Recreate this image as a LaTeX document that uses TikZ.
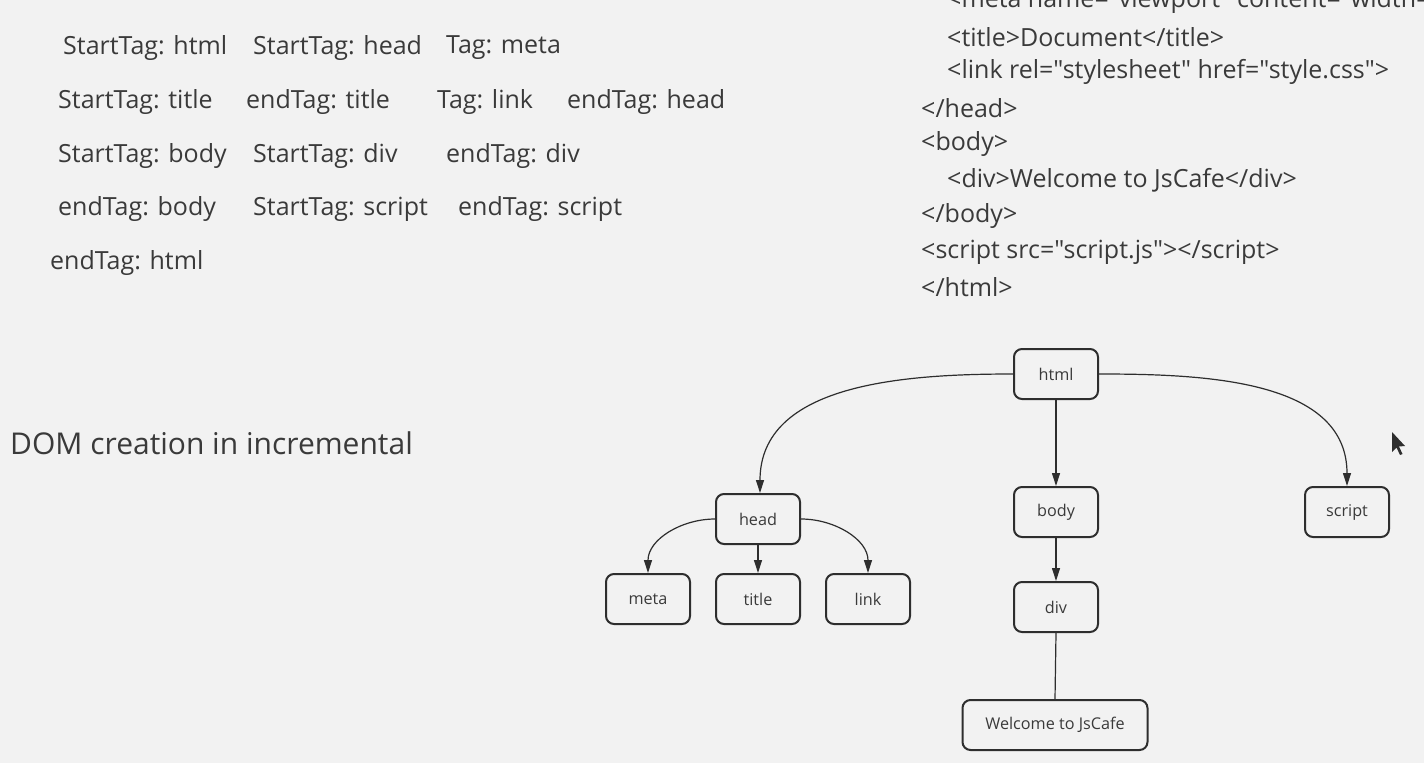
\documentclass[tikz,border=0pt]{standalone}
\usepackage{fontspec}
\setmainfont{Open Sans}
\newfontfamily\codefont{Open Sans}[Ligatures=TeXOff]
\usetikzlibrary{arrows.meta}
\definecolor{bg}{HTML}{F2F2F2}
\definecolor{txt}{HTML}{3A3A3A}
\definecolor{ln}{HTML}{2E2E2E}
\tikzset{
  tok/.style={anchor=west, inner sep=0pt, text=txt, font=\fontsize{25}{30}\selectfont},
  code/.style={anchor=west, inner sep=0pt, text=txt, font=\codefont\fontsize{25}{30}\selectfont},
  box/.style={draw=ln, line width=2pt, rounded corners=8pt, minimum width=84pt, minimum height=50pt,
     inner sep=0pt, fill=bg, text=txt, font=\fontsize{16.2}{19}\selectfont},
  conn/.style={draw=ln, line width=1.2pt, -{Triangle[length=13pt,width=8pt]}},
  plain/.style={draw=ln, line width=1.2pt}
}
\begin{document}
\begin{tikzpicture}[x=1pt,y=-1pt]
\clip (0,0) rectangle (1424,763);
\fill[bg] (0,0) rectangle (1424,763);

% token list
\node[tok] (t1) at (63,48) {StartTag: html};
\node[tok] (t2) at (253,48) {StartTag: head};
\node[tok] (t3) at (446,48) {Tag: meta};
\node[tok] (t4) at (58,102) {StartTag: title};
\node[tok] (t5) at (246,102) {endTag: title};
\node[tok] (t6) at (437,102) {Tag: link};
\node[tok] (t7) at (567,102) {endTag: head};
\node[tok] (t8) at (58,156) {StartTag: body};
\node[tok] (t9) at (253,156) {StartTag: div};
\node[tok] (t10) at (446,156) {endTag: div};
\node[tok] (t11) at (58,209) {endTag: body};
\node[tok] (t12) at (253,209) {StartTag: script};
\node[tok] (t13) at (458,209) {endTag: script};
\node[tok] (t14) at (50,263) {endTag: html};

\node[anchor=west, inner sep=0pt, text=txt, font=\fontsize{30}{36}\selectfont] (dom) at (10,443) {DOM creation in incremental};

% code
\node[code] (c0) at (947,1) {<meta name="viewport" content="width=};
\node[code] (c1) at (947,37) {<title>Document</title>};
\node[code] (c2) at (947,72) {<link rel="stylesheet" href="style.css">};
\node[code] (c3) at (921,108) {</head>};
\node[code] (c4) at (921,144) {<body>};
\node[code] (c5) at (947,180) {<div>Welcome to JsCafe</div>};
\node[code] (c6) at (921,216) {</body>};
\node[code] (c7) at (921,252) {<script src="script.js"></script>};
\node[code] (c8) at (921,287) {</html>};

% tree
\node[box] (html) at (1056,374) {html};
\node[box] (head) at (758,519) {head};
\node[box] (meta) at (648,599) {meta};
\node[box] (title) at (758,599) {title};
\node[box] (link) at (868,599) {link};
\node[box] (body) at (1056,512) {body};
\node[box] (div) at (1056,607) {div};
\node[box, minimum width=185pt] (wel) at (1055,725) {Welcome to JsCafe};
\node[box] (script) at (1347,512) {script};

\draw[conn] (html.west) to[out=180,in=90] ([xshift=2pt]head.north);
\draw[conn] (html.east) to[out=0,in=90] (script.north);
\draw[conn] (html.south) -- (body.north);
\draw[conn] (body.south) -- (div.north);
\draw[plain] (div.south) -- (wel.north);
\draw[conn] (head.west) to[out=180,in=90] (meta.north);
\draw[conn] (head.south) -- (title.north);
\draw[conn] (head.east) to[out=0,in=90] (link.north);

% mouse cursor
\fill[ln] (1392,432) -- (1392,452) -- (1396.5,447.5) -- (1400,455) -- (1402.5,454) -- (1399,446.5) -- (1405,446) -- cycle;
\end{tikzpicture}
\end{document}
